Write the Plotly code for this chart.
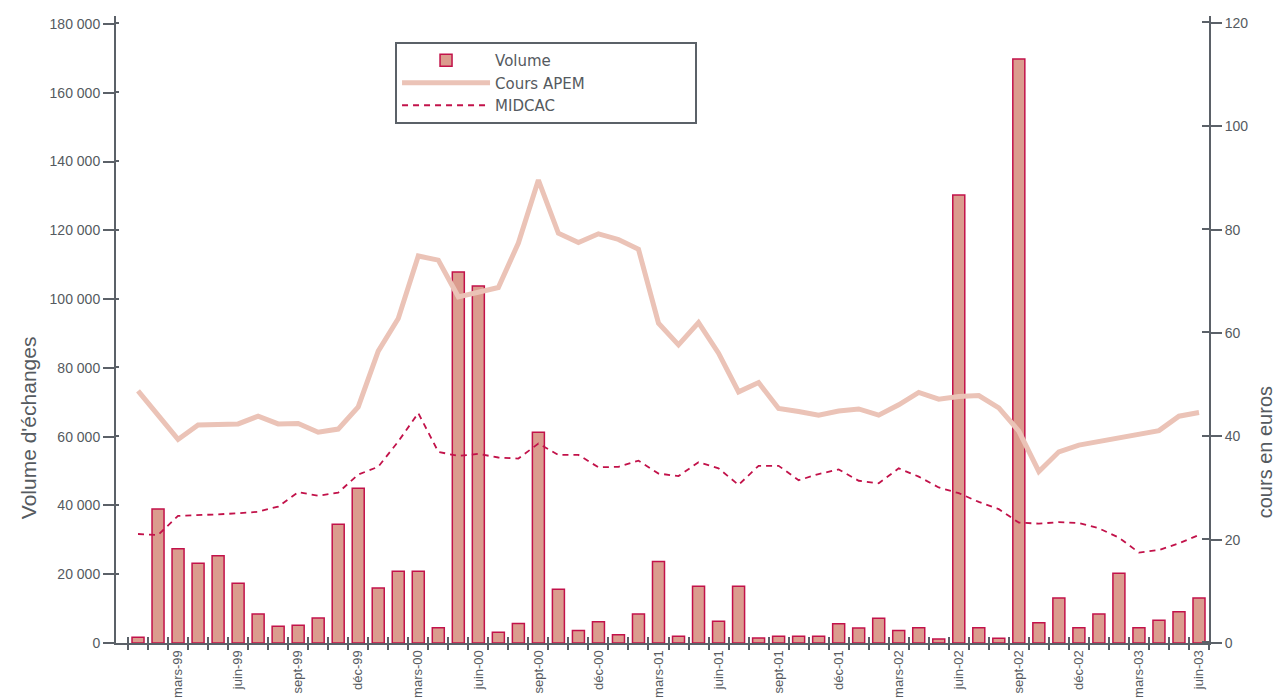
import plotly.graph_objects as go

# ---- data ----
noms_mois = ["janv", "févr", "mars", "avr", "mai", "juin", "juil", "août", "sept", "oct", "nov", "déc"]
annees = ["99", "00", "01", "02", "03"]
mois = [f"{m}-{a}" for a in annees for m in noms_mois][:54]

volume = [1700, 39000, 27400, 23200, 25400, 17400, 8400, 4850, 5150, 7250, 34500, 45000,
          16000, 20900, 20850, 4450, 107900, 103800, 3100, 5700, 61300, 15600, 3600, 6200,
          2400, 8400, 23700, 1950, 16500, 6300, 16500, 1450, 1950, 1950, 1950, 5600,
          4350, 7200, 3600, 4450, 1150, 130300, 4450, 1350, 169800, 5900, 13100, 4450,
          8400, 20300, 4450, 6600, 9100, 13100]

cours_apem = [48.8, 44.0, 39.4, 42.2, 42.2, 42.4, 43.9, 42.4, 42.5, 40.8, 41.4, 45.7,
              56.5, 62.8, 74.9, 74.1, 67.0, 67.9, 68.8, 77.4, 89.6, 79.3, 77.5, 79.2,
              78.1, 76.2, 61.9, 57.7, 62.0, 56.1, 48.6, 50.4, 45.4, 44.8, 44.1, 44.9,
              45.3, 44.1, 46.1, 48.5, 47.2, 47.7, 47.9, 45.5, 41.0, 33.2, 37.0, 38.3,
              39.0, 39.7, 40.4, 41.1, 43.9, 44.6]

midcac = [21.1, 20.9, 24.6, 24.7, 24.9, 25.1, 25.4, 26.4, 29.2, 28.5, 29.1, 32.6,
          34.1, 39.0, 44.5, 37.0, 36.2, 36.6, 35.9, 35.7, 38.6, 36.4, 36.4, 34.0,
          34.1, 35.3, 32.8, 32.3, 35.0, 33.8, 30.6, 34.3, 34.3, 31.5, 32.7, 33.6,
          31.4, 30.9, 33.8, 32.2, 30.1, 29.0, 27.3, 25.9, 23.3, 23.1, 23.4, 23.2,
          22.2, 20.4, 17.5, 18.0, 19.3, 20.9]

mois_affiches = ("mars", "juin", "sept", "déc")
vol_ticks = list(range(0, 180001, 20000))
cours_ticks = list(range(0, 121, 20))
titre_gauche = "Volume d'échanges"
titre_droite = "cours en euros"

# ---- styling ----
AXIS = "#5b6168"
TXT = "#555a60"
FONT = "Liberation Sans, Arial, sans-serif"
LEG_FONT = "DejaVu Sans, sans-serif"
PAD = "\u00a0" * 22  # widens the legend box

xs = list(range(len(mois)))
label_idx = [i for i, m in enumerate(mois) if m.split("-")[0] in mois_affiches]
bounds = [i - 0.5 for i in range(len(mois) + 1)]
xrange = [-1.1, len(mois) - 0.5]

fig = go.Figure()
fig.add_trace(go.Bar(
    x=xs, y=volume, name="Volume", width=0.6,
    marker=dict(color="#db9c8e", line=dict(color="#c2124a", width=1.5)),
    yaxis="y", xaxis="x",
))
fig.add_trace(go.Scatter(
    x=xs, y=cours_apem, name="Cours APEM" + PAD, mode="lines",
    line=dict(color="#ebc3b7", width=5), yaxis="y2", xaxis="x",
))
fig.add_trace(go.Scatter(
    x=xs, y=midcac, name="MIDCAC", mode="lines",
    line=dict(color="#c2124a", width=1.8, dash="6px,5px"), yaxis="y2", xaxis="x",
))
# helper trace for the inner half of the x tick marks
fig.add_trace(go.Scatter(x=[None], y=[None], xaxis="x2", yaxis="y",
                         showlegend=False, hoverinfo="skip"))

fig.update_layout(
    width=1278, height=700,
    margin=dict(l=116, r=69, t=16, b=57, autoexpand=False),
    paper_bgcolor="white", plot_bgcolor="white",
    separators=", ",
    font=dict(family=FONT, color=TXT, size=14),
    bargap=0.4,
    showlegend=True,
    legend=dict(
        x=0.2553, y=0.9585, xanchor="left", yanchor="top",
        bgcolor="white", bordercolor=AXIS, borderwidth=2,
        font=dict(family=LEG_FONT, size=15, color=TXT),
        tracegroupgap=0, itemwidth=88,
    ),
    xaxis=dict(
        range=xrange, anchor="y", showgrid=False, zeroline=False, automargin=False,
        showline=True, linecolor=AXIS, linewidth=2,
        tickmode="array", tickvals=label_idx,
        ticktext=[mois[i] for i in label_idx],
        ticks="", tickangle=-90, tickfont=dict(size=13, color=TXT),
        minor=dict(tickmode="array", tickvals=bounds, ticks="outside",
                   ticklen=5, tickwidth=2, tickcolor=AXIS),
    ),
    xaxis2=dict(
        range=xrange, overlaying="x", anchor="y", side="bottom", automargin=False,
        showgrid=False, zeroline=False, showline=False,
        tickmode="array", tickvals=bounds, ticks="inside",
        ticklen=6, tickwidth=2, tickcolor=AXIS, showticklabels=False,
    ),
    yaxis=dict(
        range=[0, 182326], showgrid=False, zeroline=False, automargin=False,
        showline=True, linecolor=AXIS, linewidth=2,
        tickmode="array", tickvals=vol_ticks, tickformat=",d",
        ticks="outside", ticklen=11, tickwidth=2, tickcolor=AXIS,
        minor=dict(tickmode="array", tickvals=[v + 150 for v in vol_ticks[1:]],
                   ticks="inside", ticklen=3, tickwidth=2, tickcolor=AXIS),
        tickfont=dict(size=14, color=TXT),
    ),
    yaxis2=dict(
        range=[0, 121.35], overlaying="y", side="right", anchor="x", automargin=False,
        showgrid=False, zeroline=False,
        showline=True, linecolor=AXIS, linewidth=2,
        tickmode="array", tickvals=cours_ticks,
        ticks="outside", ticklen=11, tickwidth=2, tickcolor=AXIS,
        minor=dict(tickmode="array", tickvals=[v + 0.1 for v in cours_ticks],
                   ticks="inside", ticklen=7, tickwidth=2, tickcolor=AXIS),
        tickfont=dict(size=14, color=TXT),
    ),
    annotations=[
        dict(text=titre_gauche, textangle=-90, xref="paper", yref="paper",
             x=-0.0805, y=0.3426, xanchor="center", yanchor="middle", showarrow=False,
             font=dict(family=FONT, size=21, color=TXT)),
        dict(text=titre_droite, textangle=-90, xref="paper", yref="paper",
             x=1.0513, y=0.3043, xanchor="center", yanchor="middle", showarrow=False,
             font=dict(family=FONT, size=20, color=TXT)),
    ],
)

fig.write_html("out.html", config={"displayModeBar": False},
               post_script="document.body.style.margin='0';")
